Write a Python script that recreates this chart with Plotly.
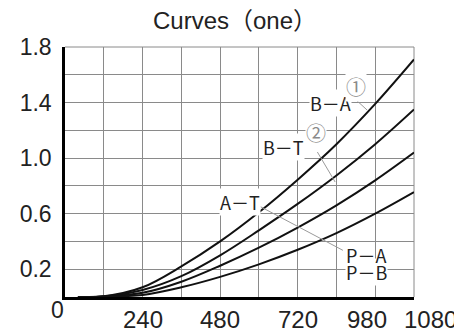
import plotly.graph_objects as go

# flow (x) points
flow = [40, 120, 240, 360, 480, 600, 720, 840, 960, 1080]

# pressure drop of each curve
b_a = [0, 0.005, 0.07, 0.22, 0.40, 0.61, 0.845, 1.10, 1.39, 1.71]
b_t = [0, 0.004, 0.05, 0.15, 0.30, 0.48, 0.67, 0.875, 1.10, 1.35]
a_t = [0, 0.003, 0.03, 0.11, 0.225, 0.355, 0.50, 0.66, 0.84, 1.04]
p_ab = [0, 0.002, 0.015, 0.07, 0.145, 0.235, 0.34, 0.46, 0.60, 0.755]

x_tick_vals = [240, 480, 720, 960, 1080]
x_tick_text = ["240", "480", "720", "980", "1080"]
y_tick_vals = [0.2, 0.6, 1.0, 1.4, 1.8]
y_tick_text = ["0.2", "0.6", "1.0", "1.4", "1.8"]

# curve labels: (text, x, y, white box behind)
curve_labels = [
    ("B－A", 822, 1.40, True),
    ("B－T", 677, 1.077, True),
    ("A－T", 540, 0.686, True),
    ("P－B", 932, 0.18, True),
    ("P－A", 932, 0.306, False),
]
circled = [("①", 900, 1.514), ("②", 778, 1.181)]
# leader lines: (x0, y0, x1, y1)
leaders = [
    (895, 1.431, 935, 1.346),
    (781, 1.044, 836, 0.828),
    (605, 0.650, 860, 0.336),
]

GRID = "#8a8a8a"
TXT = "#222222"
FONT = "Liberation Sans, Arial, Noto Sans CJK SC, sans-serif"
LBL_FONT = "Noto Sans CJK SC, sans-serif"

# the page body adds an 8px margin, so the figure is 8px smaller each way
W, H = 454, 326

fig = go.Figure()
for ys in [b_a, b_t, a_t, p_ab]:
    fig.add_trace(go.Scatter(
        x=flow, y=ys, mode="lines",
        line=dict(color="#111111", width=2, shape="spline", smoothing=1),
        showlegend=False, hoverinfo="skip"
    ))

for x0, y0, x1, y1 in leaders:
    fig.add_shape(type="line", x0=x0, y0=y0, x1=x1, y1=y1,
                  line=dict(color="#9a9a9a", width=1), layer="above")

# top and right border
fig.add_shape(type="line", xref="paper", yref="paper", x0=0, y0=1, x1=1, y1=1,
              line=dict(color=GRID, width=1), layer="below")
fig.add_shape(type="line", xref="paper", yref="paper", x0=1, y0=0, x1=1, y1=1,
              line=dict(color=GRID, width=1), layer="below")

for text, x, y, boxed in curve_labels:
    fig.add_annotation(x=x, y=y, text=text, showarrow=False,
                       font=dict(family=LBL_FONT, size=18, color=TXT),
                       bgcolor="white" if boxed else None, borderpad=0)
for text, x, y in circled:
    fig.add_annotation(x=x, y=y, text=text, showarrow=False,
                       font=dict(family=LBL_FONT, size=20, color="#8a8a8a"),
                       bgcolor="white", borderpad=0)

# x labels, the last two sit a bit off their grid lines in the original
x_shift = {"980": -8, "1080": 16}
for v, t in zip(x_tick_vals, x_tick_text):
    fig.add_annotation(x=v, y=0, yref="paper", text=t, showarrow=False,
                       yanchor="middle", yshift=-22, xshift=x_shift.get(t, 0),
                       font=dict(family=FONT, size=24, color=TXT))
fig.add_annotation(x=0, y=0, yref="paper", text="0", showarrow=False,
                   yanchor="middle", xshift=-8, yshift=-13,
                   font=dict(family=FONT, size=23, color=TXT))

fig.update_layout(
    width=W, height=H,
    margin=dict(l=48, r=48, t=39, b=37),
    paper_bgcolor="white", plot_bgcolor="white",
    title=dict(text="Curves（one）", x=0.5, xanchor="center",
               y=1 - 13 / H, yanchor="middle",
               font=dict(family=FONT, size=24, color=TXT)),
    font=dict(family=FONT, color=TXT),
)

fig.update_xaxes(
    range=[0, 1080], dtick=120, tick0=0,
    showgrid=True, gridcolor=GRID, gridwidth=1,
    showline=True, linecolor="#000000", linewidth=2.5,
    showticklabels=False, ticks="", zeroline=False, fixedrange=True
)
fig.update_yaxes(
    range=[0, 1.8], tickvals=y_tick_vals, ticktext=y_tick_text,
    showgrid=True, gridcolor=GRID, gridwidth=1,
    minor=dict(dtick=0.2, tick0=0, showgrid=True, gridcolor=GRID, gridwidth=1),
    showline=True, linecolor="#000000", linewidth=2.5,
    ticks="", ticklabelstandoff=6, zeroline=False,
    tickfont=dict(family=FONT, size=23, color=TXT), fixedrange=True
)

fig.write_html("out.html")
